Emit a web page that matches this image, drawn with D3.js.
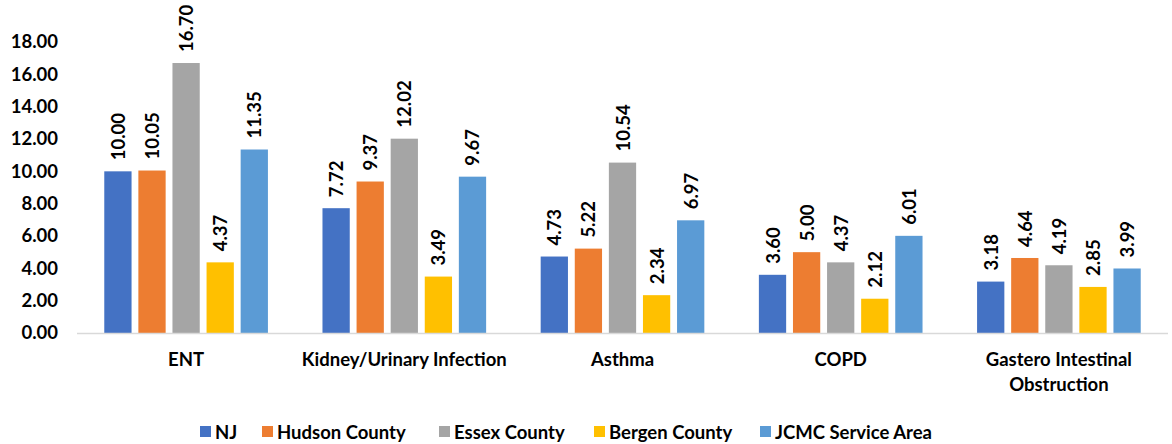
<!DOCTYPE html>
<html>
<head>
<meta charset="utf-8">
<script src="https://cdn.jsdelivr.net/npm/d3@7/dist/d3.min.js"></script>
<style>
  html, body { margin: 0; padding: 0; background: #fff; }
  svg { display: block; font-family: Lato, "Open Sans", sans-serif; font-weight: bold; }
</style>
</head>
<body>
<svg id="chart" width="1172" height="444"></svg>
<script>
const categories = ["ENT", "Kidney/Urinary Infection", "Asthma", "COPD", "Gastero Intestinal Obstruction"];
const seriesNames = ["NJ", "Hudson County", "Essex County", "Bergen County", "JCMC Service Area"];
const seriesColors = ["#4472C4", "#ED7D31", "#A5A5A5", "#FFC000", "#5B9BD5"];
const njValues     = [10.00, 7.72, 4.73, 3.60, 3.18];
const hudsonValues = [10.05, 9.37, 5.22, 5.00, 4.64];
const essexValues  = [16.70, 12.02, 10.54, 4.37, 4.19];
const bergenValues = [4.37, 3.49, 2.34, 2.12, 2.85];
const jcmcValues   = [11.35, 9.67, 6.97, 6.01, 3.99];
const yTicks = [0, 2, 4, 6, 8, 10, 12, 14, 16, 18];

const seriesValues = [njValues, hudsonValues, essexValues, bergenValues, jcmcValues];
const rows = categories.map((c, i) => ({
  category: c,
  values: seriesNames.map((s, j) => ({ series: s, color: seriesColors[j], value: seriesValues[j][i] }))
}));

const fontSize = 18.5;
const svg = d3.select("#chart");
const left = 77, right = 1168, y0 = 333, yTop = 42;

const x0 = d3.scaleBand().domain(categories).range([left, right]).padding(0);
const x1 = d3.scaleBand().domain(seriesNames).range([0, x0.bandwidth()])
  .paddingInner(0.2).paddingOuter(0.8);
const y = d3.scaleLinear().domain([0, 18]).range([y0, yTop]);

// Y axis labels (no axis line or grid)
const yAxis = d3.axisLeft(y).tickValues(yTicks).tickFormat(d3.format(".2f")).tickSize(0).tickPadding(0);
const yg = svg.append("g").attr("transform", "translate(58,0)").call(yAxis);
yg.select(".domain").remove();
yg.selectAll("text").attr("font-size", fontSize).attr("font-family", "Lato, sans-serif")
  .attr("font-weight", "bold").attr("fill", "#000");

// Bars
const groups = svg.append("g").selectAll("g").data(rows).join("g")
  .attr("transform", d => `translate(${x0(d.category)},0)`);

groups.selectAll("rect").data(d => d.values).join("rect")
  .attr("x", d => x1(d.series))
  .attr("y", d => y(d.value))
  .attr("width", x1.bandwidth())
  .attr("height", d => y0 - y(d.value))
  .attr("fill", d => d.color);

// Value labels, rotated
groups.selectAll("text.val").data(d => d.values).join("text")
  .attr("class", "val")
  .attr("transform", d => `translate(${x1(d.series) + x1.bandwidth() / 2 + 7},${y(d.value) - 11}) rotate(-90)`)
  .attr("text-anchor", "start")
  .attr("font-size", fontSize)
  .attr("fill", "#000")
  .text(d => d.value.toFixed(2));

// Baseline
svg.append("line").attr("x1", left).attr("x2", right).attr("y1", y0 + 0.5).attr("y2", y0 + 0.5)
  .attr("stroke", "#D9D9D9").attr("stroke-width", 1.5);

// Category labels with word wrap
const xAxis = svg.append("g");
categories.forEach(c => {
  const cx = x0(c) + x0.bandwidth() / 2;
  const t = xAxis.append("text")
    .attr("x", cx)
    .attr("y", 366)
    .attr("text-anchor", "middle")
    .attr("font-size", fontSize)
    .attr("fill", "#000");
  const words = c.split(" ");
  let line = [];
  let tspan = t.append("tspan").attr("x", cx).attr("dy", 0);
  words.forEach(w => {
    line.push(w);
    tspan.text(line.join(" "));
    if (tspan.node().getComputedTextLength() > x0.bandwidth() - 2 && line.length > 1) {
      line.pop();
      tspan.text(line.join(" "));
      line = [w];
      tspan = t.append("tspan").attr("x", cx).attr("dy", 25).text(w);
    }
  });
});

// Legend
const legendX = [200, 262, 439, 594, 760];
const legend = svg.append("g").selectAll("g").data(seriesNames).join("g")
  .attr("transform", (d, i) => `translate(${legendX[i]},432)`);
legend.append("rect").attr("x", 0).attr("y", -6).attr("width", 11).attr("height", 11)
  .attr("fill", (d, i) => seriesColors[i]);
legend.append("text").attr("x", 15).attr("y", 6.5).attr("font-size", fontSize).attr("fill", "#000").text(d => d);
</script>
</body>
</html>
